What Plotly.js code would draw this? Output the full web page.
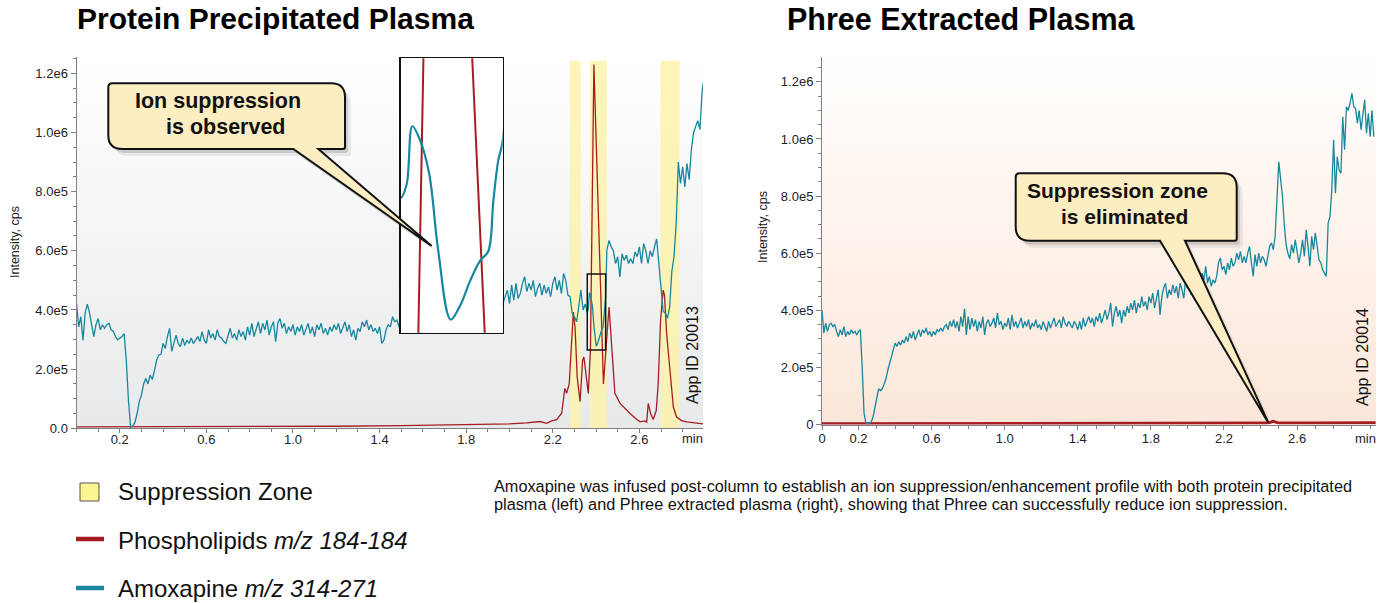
<!DOCTYPE html>
<html><head><meta charset="utf-8">
<script src="https://cdn.plot.ly/plotly-3.0.1.min.js"></script>
<style>html,body{margin:0;padding:0;background:#fff;}#chart{width:1382px;height:603px;}</style>
</head><body><div id="chart"></div>
<script>
// ---------------- DATA ----------------
// Left panel (Protein Precipitated Plasma) - Amoxapine m/z 314-271, sampled every 0.01 min from 0.00 to 2.35
const amoxLeftStart = 0.0, amoxLeftStep = 0.01;
const amoxLeftA = [
4.22e5,3.43e5,3.77e5,2.97e5,3.9e5,4.2e5,3.9e5,3.43e5,3.1e5,3.5e5,
3.71e5,3.33e5,3.5e5,3.38e5,3.5e5,3.55e5,3.33e5,3.28e5,3.1e5,2.99e5,
3.05e5,3.1e5,3.2e5,2.3e5,0.95e5,0.03e5,0.08e5,0.2e5,0.5e5,0.9e5,
1.12e5,1.5e5,1.68e5,1.5e5,1.8e5,1.65e5,1.95e5,2.3e5,2.48e5,2.5e5,
2.87e5,2.7e5,3.1e5,3.38e5,2.6e5,2.87e5,3.15e5,2.87e5,2.76e5,3.05e5,
2.8e5,2.98e5,2.87e5,3.05e5,2.87e5,2.98e5,3.1e5,2.93e5,3.27e5,2.98e5,
2.87e5,3.33e5,3.05e5,3.2e5,2.98e5,3.33e5,3.1e5,3.05e5,2.93e5,2.87e5,
3.15e5,3.38e5,3.05e5,3.2e5,2.98e5,3.33e5,3.1e5,3.27e5,2.98e5,3.43e5,
3.15e5,3.55e5,3.1e5,3.38e5,3.6e5,3.2e5,3.55e5,3.33e5,3.66e5,3.15e5,
3.43e5,3.6e5,2.93e5,3.55e5,3.71e5,3.38e5,3.55e5,3.2e5,3.43e5,3.27e5,
3.5e5,3.15e5,3.43e5,3.27e5,3.5e5,3.15e5,3.38e5,3.55e5,3.2e5,3.43e5,
3.1e5,3.5e5,3.33e5,3.55e5,3.2e5,3.38e5,3.15e5,3.43e5,3.27e5,3.5e5,
3.33e5,3.55e5,3.2e5,3.43e5,3.6e5,3.27e5,3.5e5,3.1e5,3.33e5,2.98e5,
3.38e5,3.27e5,3.6e5,3.43e5,3.66e5,3.33e5,3.5e5,3.27e5,3.38e5,3.2e5,
3.43e5,2.87e5,2.98e5,3.33e5,3.5e5,3.43e5,3.77e5,3.6e5,3.66e5,3.43e5,
3.5e5,3.3e5,3.6e5,3.4e5,3.55e5,3.3e5,3.45e5,3.6e5,3.35e5,3.2e5,
3.4e5,3.25e5,3.5e5,3.6e5,3.45e5,3.7e5,3.5e5,3.65e5,3.8e5,3.55e5,
3.75e5,3.6e5,3.85e5,3.7e5,3.9e5,3.65e5,3.8e5,3.95e5,3.75e5,4.0e5,
3.85e5,4.05e5,3.9e5,4.15e5,3.95e5,4.2e5,4.0e5,4.25e5,4.1e5,4.3e5,
4.05e5,4.35e5,4.15e5,4.4e5,4.2e5,4.3e5,4.1e5,4.22e5,4.45e5,4.67e5,
4.22e5,4.84e5,4.33e5,4.9e5,4.39e5,4.56e5,4.9e5,5.12e5,4.62e5,4.9e5,
4.67e5,5.0e5,4.45e5,4.73e5,4.9e5,4.5e5,4.84e5,4.56e5,4.78e5,4.45e5,
4.9e5,5.12e5,4.67e5,5.0e5,4.56e5,5.23e5,5.0e5,4.5e5,4.45e5,3.88e5,
3.77e5,3.6e5,4.1e5,4.67e5,4.0e5,4.2e5
];
// Detailed segment (the zoomed region shown in the inset)
const amoxLeftBTime = [2.35,2.3594,2.3644,2.3691,2.3755,2.3832,2.3907,2.4010,2.4088,2.4171,2.4254,2.4323,2.4365,2.4406,2.4443,2.45];
const amoxLeftB     = [4.2e5,3.91e5,4.04e5,4.58e5,4.45e5,4.13e5,3.41e5,2.77e5,2.9e5,3.13e5,3.32e5,3.41e5,3.88e5,4.26e5,4.44e5,6.03e5];
// From 2.45 to 2.90, every 0.01 min
const amoxLeftCStart = 2.45;
const amoxLeftC = [
6.03e5,6.35e5,6.13e5,6.0e5,5.57e5,5.8e5,5.12e5,5.9e5,5.68e5,5.85e5,
5.57e5,5.73e5,5.57e5,5.96e5,5.8e5,6.13e5,5.57e5,6.24e5,6.0e5,5.57e5,
6.0e5,5.8e5,6.13e5,6.4e5,5.57e5,4.6e5,3.95e5,3.9e5,3.72e5,4.1e5,
5.3e5,5.8e5,6.9e5,9.0e5,8.28e5,8.84e5,8.16e5,8.95e5,8.4e5,9.4e5,
9.97e5,1.02e6,1.04e6,1.01e6,1.14e6,1.19e6
];
// Phospholipids m/z 184-184, left panel
const phosLeftTime = [0,0.3,0.6,0.9,1.2,1.5,1.8,2.0,2.08,2.141,2.172,2.195,2.218,2.241,2.256,2.264,2.276,2.287,2.295,2.303,2.313,2.326,2.338,2.344,2.352,2.364,2.3741,2.3782,2.390,2.419,2.429,2.434,2.460,2.472,2.487,2.510,2.535,2.557,2.580,2.603,2.625,2.634,2.641,2.652,2.664,2.678,2.687,2.698,2.710,2.716,2.726,2.745,2.757,2.772,2.795,2.818,2.85,2.894];
const phosLeft     = [5e3,5e3,6e3,6e3,7e3,9e3,1.2e4,1.5e4,1.8e4,2.3e4,1.7e4,2.5e4,2.9e4,5.1e4,1.35e5,1.18e5,1.5e5,3.2e5,3.93e5,3.4e5,1.73e5,9e4,2.3e5,2.41e5,1.96e5,1.18e5,2.65e5,5.22e5,1.23e6,5.2e5,2.65e5,1.5e5,4.1e5,2.87e5,1.18e5,8.5e4,6.5e4,5e4,3.5e4,2.2e4,2.5e4,2.1e4,8.4e4,5e4,3e4,6e4,1.5e5,3.65e5,4.67e5,4.5e5,3.2e5,1.5e5,7.2e4,3.8e4,2.6e4,2.2e4,1.8e4,1.5e4];
// Suppression zones (min)
const zoneStart = [2.279,2.371,2.698];
const zoneEnd   = [2.329,2.449,2.786];

// Right panel (Phree Extracted Plasma) - Amoxapine, every 0.01 min from 0.00 to 3.02
const amoxRightStart = 0.0, amoxRightStep = 0.01;
const amoxRight = [
4.01e5,3.2e5,3.55e5,3.26e5,3.5e5,3.55e5,3.43e5,3.5e5,3.26e5,3.08e5,
3.32e5,3.14e5,3.43e5,3.08e5,3.26e5,3.14e5,3.32e5,3.2e5,3.26e5,3.14e5,
3.26e5,3.32e5,2.0e5,0.4e5,0.04e5,0.02e5,0.04e5,0.1e5,0.28e5,0.6e5,
0.95e5,1.25e5,1.19e5,1.25e5,1.42e5,1.6e5,1.9e5,2.14e5,2.32e5,2.55e5,
2.85e5,2.73e5,2.9e5,2.78e5,2.96e5,2.85e5,3.08e5,2.9e5,3.2e5,3.02e5,
3.26e5,2.96e5,3.14e5,3.32e5,3.08e5,3.32e5,3.2e5,3.38e5,3.14e5,3.26e5,
3.08e5,3.26e5,3.14e5,3.32e5,3.26e5,3.38e5,3.26e5,3.43e5,3.5e5,3.32e5,
3.61e5,3.43e5,3.67e5,3.38e5,3.61e5,3.26e5,3.78e5,3.43e5,4.06e5,3.14e5,
3.78e5,3.32e5,3.73e5,3.43e5,3.67e5,3.26e5,3.61e5,3.38e5,3.78e5,3.14e5,
3.55e5,3.67e5,3.43e5,3.55e5,3.73e5,3.38e5,3.9e5,3.5e5,3.61e5,3.32e5,
3.55e5,3.43e5,3.73e5,3.32e5,3.84e5,3.43e5,3.61e5,3.38e5,3.55e5,3.73e5,
3.38e5,3.61e5,3.43e5,3.67e5,3.32e5,3.55e5,3.43e5,3.67e5,3.38e5,3.5e5,
3.32e5,3.61e5,3.43e5,3.26e5,3.61e5,3.38e5,3.55e5,3.73e5,3.43e5,3.55e5,
3.67e5,3.38e5,3.78e5,3.55e5,3.43e5,3.61e5,3.5e5,3.38e5,3.61e5,3.5e5,
3.32e5,3.61e5,3.32e5,3.73e5,3.43e5,3.61e5,3.78e5,3.55e5,3.73e5,3.43e5,
3.78e5,3.61e5,3.9e5,3.55e5,3.78e5,4.01e5,3.67e5,3.9e5,4.25e5,3.43e5,
3.9e5,4.14e5,3.78e5,4.01e5,3.55e5,4.01e5,3.78e5,4.14e5,3.9e5,4.25e5,
4.01e5,4.36e5,3.9e5,4.25e5,4.08e5,4.48e5,4.14e5,4.31e5,4.01e5,4.48e5,
4.25e5,4.6e5,4.08e5,4.36e5,4.72e5,3.84e5,4.48e5,4.78e5,4.95e5,4.42e5,
4.72e5,4.54e5,4.9e5,4.6e5,4.84e5,4.42e5,4.95e5,4.72e5,4.42e5,5.07e5,
4.78e5,4.95e5,4.54e5,4.84e5,5.07e5,4.72e5,5.19e5,4.95e5,5.3e5,5.07e5,
5.54e5,4.95e5,5.19e5,4.84e5,5.07e5,4.95e5,5.19e5,5.66e5,5.83e5,5.42e5,
5.54e5,5.25e5,5.66e5,5.42e5,5.83e5,5.54e5,5.66e5,6.0e5,5.77e5,6.06e5,
5.66e5,5.89e5,5.66e5,6.0e5,6.24e5,5.66e5,5.19e5,5.95e5,5.54e5,6.0e5,
5.66e5,5.89e5,5.77e5,5.54e5,5.89e5,6.24e5,6.36e5,6.12e5,6.6e5,8.2e5,
9.2e5,8.6e5,8.0e5,7.0e5,6.3e5,6.0e5,5.8e5,6.3e5,6.0e5,6.47e5,
6.12e5,5.66e5,6.0e5,6.47e5,5.89e5,6.82e5,6.24e5,5.54e5,6.59e5,6.12e5,
6.71e5,6.12e5,5.77e5,5.66e5,5.42e5,5.3e5,5.19e5,7.05e5,7.28e5,8.21e5,
9.97e5,8.1e5,9.38e5,8.91e5,8.8e5,1.078e6,9.62e5,1.113e6,1.1e6,1.125e6,
1.16e6,1.113e6,1.107e6,1.055e6,1.1e6,1.032e6,1.078e6,1.137e6,1.02e6,1.09e6,
1.008e6,1.1e6,1.008e6
];
const phosRightTime = [0,0.5,1.0,1.5,2.0,2.3,2.44,2.47,2.5,2.7,2.9,3.03];
const phosRight     = [3e3,3e3,3e3,4e3,4e3,5e3,5e3,1.1e4,5e3,5e3,7e3,6e3];

// Tick labels
const leftXTickVals  = [0.2,0.6,1.0,1.4,1.8,2.2,2.6];
const leftXTickText  = ['0.2','0.6','1.0','1.4','1.8','2.2','2.6'];
const rightXTickVals = [0,0.2,0.6,1.0,1.4,1.8,2.2,2.6];
const rightXTickText = ['0','0.2','0.6','1.0','1.4','1.8','2.2','2.6'];
const yTickVals      = [0,2e5,4e5,6e5,8e5,1e6,1.2e6];
const leftYTickText  = ['0.0','2.0e5','4.0e5','6.0e5','8.0e5','1.0e6','1.2e6'];
const rightYTickText = ['0','2.0e5','4.0e5','6.0e5','8.0e5','1.0e6','1.2e6'];

// ---------------- LAYOUT ----------------
const W = 1382, H = 603;
const FONT = '"Liberation Sans", Arial, Helvetica, sans-serif';
const TEAL = '#16879f', RED = '#a51d22';
const fx = p => p / W, fy = p => 1 - p / H;

const leftBox  = {l:76.5, r:703, t:57, b:428.3};
const rightBox = {l:822, r:1376, t:57, b:424.5};
const insetPx  = {l:400.7, r:502.7, t:58.3, b:332.7};
const leftXRange = [0, 2.894], leftYRange = [0, 1.255e6];
const rightXRange = [0, 3.032], rightYRange = [0, 1.287e6];
const insetXRange = [2.3594, 2.4443], insetYRange = [2.647e5, 5.216e5];

function minorVals(a, b, step){ const v=[]; for(let x=a; x<=b+1e-9; x+=step) v.push(+x.toFixed(6)); return v; }

function baseAxis(){
  return {showgrid:false, zeroline:false, showline:true, linecolor:'#808080', linewidth:1,
    ticks:'outside', ticklen:5, tickwidth:1, tickcolor:'#808080',
    tickfont:{family:FONT, size:13, color:'#222'}, fixedrange:true, tickmode:'array'};
}
const xaxis = Object.assign(baseAxis(), {domain:[fx(leftBox.l), fx(leftBox.r)], range:leftXRange, anchor:'y',
  tickvals:leftXTickVals, ticktext:leftXTickText, ticklen:4, ticklabelstandoff:-5,
  minor:{tickmode:'array', tickvals:minorVals(0,2.8,0.1), ticks:'outside', ticklen:3, tickcolor:'#808080', showgrid:false}});
const yaxis = Object.assign(baseAxis(), {domain:[fy(leftBox.b), fy(leftBox.t)], range:leftYRange, anchor:'x',
  tickvals:yTickVals, ticktext:leftYTickText,
  minor:{tickmode:'array', tickvals:minorVals(0,1.25e6,5e4), ticks:'outside', ticklen:3, tickcolor:'#808080', showgrid:false}});
const xaxis2 = Object.assign(baseAxis(), {domain:[fx(rightBox.l), fx(rightBox.r)], range:rightXRange, anchor:'y2',
  tickvals:rightXTickVals, ticktext:rightXTickText, ticklen:4, ticklabelstandoff:-2,
  minor:{tickmode:'array', tickvals:minorVals(0,3.0,0.1), ticks:'outside', ticklen:3, tickcolor:'#808080', showgrid:false}});
const yaxis2 = Object.assign(baseAxis(), {domain:[fy(rightBox.b), fy(rightBox.t)], range:rightYRange, anchor:'x2',
  tickvals:yTickVals, ticktext:rightYTickText,
  minor:{tickmode:'array', tickvals:minorVals(0,1.28e6,5e4), ticks:'outside', ticklen:3, tickcolor:'#808080', showgrid:false}});
const xaxis3 = {domain:[fx(insetPx.l), fx(insetPx.r)], range:insetXRange, anchor:'y3', showgrid:false, zeroline:false,
  showline:true, mirror:true, linecolor:'#111', linewidth:1.5, showticklabels:false, ticks:'', fixedrange:true};
const yaxis3 = {domain:[fy(insetPx.b), fy(insetPx.t)], range:insetYRange, anchor:'x3', showgrid:false, zeroline:false,
  showline:true, mirror:true, linecolor:'#111', linewidth:1.5, showticklabels:false, ticks:'', fixedrange:true};

// ---------------- TRACES ----------------
const traces = [
  {type:'scatter', mode:'lines', x:phosLeftTime, y:phosLeft, xaxis:'x', yaxis:'y', line:{color:RED, width:1.3}, hoverinfo:'skip'},
  {type:'scatter', mode:'lines', x0:amoxLeftStart, dx:amoxLeftStep, y:amoxLeftA, xaxis:'x', yaxis:'y', line:{color:TEAL, width:1.3}, hoverinfo:'skip'},
  {type:'scatter', mode:'lines', x:amoxLeftBTime, y:amoxLeftB, xaxis:'x', yaxis:'y', line:{color:TEAL, width:1.3}, hoverinfo:'skip'},
  {type:'scatter', mode:'lines', x0:amoxLeftCStart, dx:amoxLeftStep, y:amoxLeftC, xaxis:'x', yaxis:'y', line:{color:TEAL, width:1.3}, hoverinfo:'skip'},
  {type:'scatter', mode:'lines', x:phosRightTime, y:phosRight, xaxis:'x2', yaxis:'y2', line:{color:RED, width:3}, hoverinfo:'skip'},
  {type:'scatter', mode:'lines', x0:amoxRightStart, dx:amoxRightStep, y:amoxRight, xaxis:'x2', yaxis:'y2', line:{color:TEAL, width:1.3}, hoverinfo:'skip'},
  // inset (zoom of the boxed region)
  {type:'scatter', mode:'lines', x:phosLeftTime, y:phosLeft, xaxis:'x3', yaxis:'y3', line:{color:RED, width:2}, hoverinfo:'skip'},
  {type:'scatter', mode:'lines', x:amoxLeftBTime, y:amoxLeftB, xaxis:'x3', yaxis:'y3', line:{color:TEAL, width:2.2, shape:'spline', smoothing:1}, hoverinfo:'skip'}
];

// ---------------- SHAPES / DECORATION ----------------
function gradSvg(top, bottom){
  const s = '<svg xmlns="http://www.w3.org/2000/svg" width="10" height="100" viewBox="0 0 10 100" preserveAspectRatio="none">'+
    '<defs><linearGradient id="g" x1="0" y1="0" x2="0" y2="1"><stop offset="0" stop-color="'+top+'"/><stop offset="1" stop-color="'+bottom+'"/></linearGradient></defs>'+
    '<rect width="10" height="100" fill="url(#g)"/></svg>';
  return 'data:image/svg+xml;charset=utf-8,' + encodeURIComponent(s);
}
const images = [
  {source:gradSvg('#ffffff','#e8e9ea'), xref:'x', yref:'y', x:leftXRange[0], y:leftYRange[1], sizex:leftXRange[1]-leftXRange[0], sizey:leftYRange[1]-leftYRange[0], sizing:'stretch', xanchor:'left', yanchor:'top', layer:'below'},
  {source:gradSvg('#fffefd','#fbe7d9'), xref:'x2', yref:'y2', x:rightXRange[0], y:rightYRange[1], sizex:rightXRange[1]-rightXRange[0], sizey:rightYRange[1]-rightYRange[0], sizing:'stretch', xanchor:'left', yanchor:'top', layer:'below'}
];

// pixel -> left data coordinates (for decoration shapes)
const lx = p => leftXRange[0] + (p - leftBox.l) / (leftBox.r - leftBox.l) * (leftXRange[1] - leftXRange[0]);
const ly = p => leftYRange[0] + (leftBox.b - p) / (leftBox.b - leftBox.t) * (leftYRange[1] - leftYRange[0]);

const shapes = [];
// zoom cone from inset to the small box
shapes.push({type:'path', xref:'x', yref:'y', layer:'below',
  path:`M ${lx(insetPx.r)},${ly(insetPx.t)} L ${insetXRange[0]},${insetYRange[1]} L ${insetXRange[0]},${insetYRange[0]} L ${lx(insetPx.r)},${ly(insetPx.b)} Z`,
  fillcolor:'rgba(238,168,105,0.30)', line:{color:'rgba(240,180,120,0.8)', width:1}});
// suppression zones
for(let i=0;i<zoneStart.length;i++){
  shapes.push({type:'rect', xref:'x', yref:'y', x0:zoneStart[i], x1:zoneEnd[i], y0:0, y1:1.242e6,
    fillcolor:'#fcf3a8', opacity:0.82, line:{width:0}, layer:'between'});
}
// small zoom box
shapes.push({type:'rect', xref:'x', yref:'y', x0:insetXRange[0], x1:insetXRange[1], y0:insetYRange[0], y1:insetYRange[1],
  line:{color:'#111', width:1.5}, fillcolor:'rgba(0,0,0,0)', layer:'above'});

function bubblePath(l,t,r,b,tx1,tx2,tipx,tipy,dx,dy){
  dx=dx||0; dy=dy||0;
  const P=(x,y)=>`${fx(x+dx)},${fy(y+dy)}`;
  return `M ${P(l+4,t)} L ${P(r-14,t)} Q ${P(r,t)} ${P(r,t+14)} L ${P(r,b-2)} Q ${P(r,b)} ${P(r-2,b)} L ${P(tx2,b)} L ${P(tipx,tipy)} L ${P(tx1,b)} L ${P(l+14,b)} Q ${P(l,b)} ${P(l,b-14)} L ${P(l,t+4)} Q ${P(l,t)} ${P(l+4,t)} Z`;
}
const bubbles = [
  [108.3,83.3,345,149,293.3,318.3,431.7,246],
  [1015.7,173.3,1236.7,240.7,1160,1185,1268.3,422.7]
];
bubbles.forEach(bb=>{
  shapes.push({type:'path', xref:'paper', yref:'paper', layer:'above', path:bubblePath(...bb,6,7), fillcolor:'rgba(0,0,0,0.07)', line:{width:0}});
  shapes.push({type:'path', xref:'paper', yref:'paper', layer:'above', path:bubblePath(...bb,3,4), fillcolor:'rgba(0,0,0,0.12)', line:{width:0}});
  shapes.push({type:'path', xref:'paper', yref:'paper', layer:'above', path:bubblePath(...bb), fillcolor:'#fcedc2', line:{color:'#111', width:2}});
});
// legend symbols
shapes.push({type:'rect', xref:'paper', yref:'paper', x0:fx(80), x1:fx(99), y0:fy(501), y1:fy(483), fillcolor:'#fbf592', line:{color:'#555', width:1}});
shapes.push({type:'line', xref:'paper', yref:'paper', x0:fx(76), x1:fx(104), y0:fy(539), y1:fy(539), line:{color:RED, width:4.5}});
shapes.push({type:'line', xref:'paper', yref:'paper', x0:fx(76), x1:fx(104), y0:fy(588), y1:fy(588), line:{color:TEAL, width:4.5}});

// ---------------- ANNOTATIONS ----------------
function txt(text, x, y, o){
  return Object.assign({text:text, xref:'paper', yref:'paper', x:fx(x), y:fy(y), showarrow:false,
    xanchor:'left', yanchor:'middle', font:{family:FONT, size:13, color:'#111'}}, o||{});
}
const annotations = [
  txt('<b>Protein Precipitated Plasma</b>', 75, 19, {font:{family:FONT, size:30, color:'#000'}}),
  txt('<b>Phree Extracted Plasma</b>', 785, 19, {font:{family:FONT, size:30.5, color:'#000'}}),
  txt('Intensity, cps', 15, 242, {xanchor:'center', textangle:-90, font:{family:FONT, size:12.5, color:'#222'}}),
  txt('Intensity, cps', 763, 227, {xanchor:'center', textangle:-90, font:{family:FONT, size:12.5, color:'#222'}}),
  txt('min', 692, 438, {xanchor:'center', font:{family:FONT, size:13, color:'#222'}}),
  txt('min', 1365, 438, {xanchor:'center', font:{family:FONT, size:13, color:'#222'}}),
  txt('App ID 20013', 692, 355, {xanchor:'center', textangle:-90, font:{family:FONT, size:16, color:'#111'}}),
  txt('App ID 20014', 1362, 357, {xanchor:'center', textangle:-90, font:{family:FONT, size:16, color:'#111'}}),
  txt('<b>Ion suppression</b>', 218.3, 101, {xanchor:'center', font:{family:FONT, size:21.5, color:'#111'}}),
  txt('<b>is observed</b>', 226, 127, {xanchor:'center', font:{family:FONT, size:21.5, color:'#111'}}),
  txt('<b>Suppression zone</b>', 1117.5, 190, {xanchor:'center', font:{family:FONT, size:21, color:'#111'}}),
  txt('<b>is eliminated</b>', 1124, 216.5, {xanchor:'center', font:{family:FONT, size:21, color:'#111'}}),
  txt('Suppression Zone', 116, 492, {font:{family:FONT, size:24, color:'#111'}}),
  txt('Phospholipids <i>m/z 184-184</i>', 116, 540, {font:{family:FONT, size:24, color:'#111'}}),
  txt('Amoxapine <i>m/z 314-271</i>', 116, 588, {font:{family:FONT, size:24, color:'#111'}}),
  txt('Amoxapine was infused post-column to establish an ion suppression/enhancement profile with both protein precipitated', 492, 486, {font:{family:FONT, size:16.3, color:'#111'}}),
  txt('plasma (left) and Phree extracted plasma (right), showing that Phree can successfully reduce ion suppression.', 492, 504, {font:{family:FONT, size:16.3, color:'#111'}})
];

const layout = {
  width:W, height:H, margin:{l:0,r:0,t:0,b:0}, showlegend:false,
  paper_bgcolor:'#ffffff', plot_bgcolor:'#ffffff',
  xaxis, yaxis, xaxis2, yaxis2, xaxis3, yaxis3,
  images, shapes, annotations, font:{family:FONT}
};
Plotly.newPlot('chart', traces, layout, {displayModeBar:false, staticPlot:true});
</script></body></html>
